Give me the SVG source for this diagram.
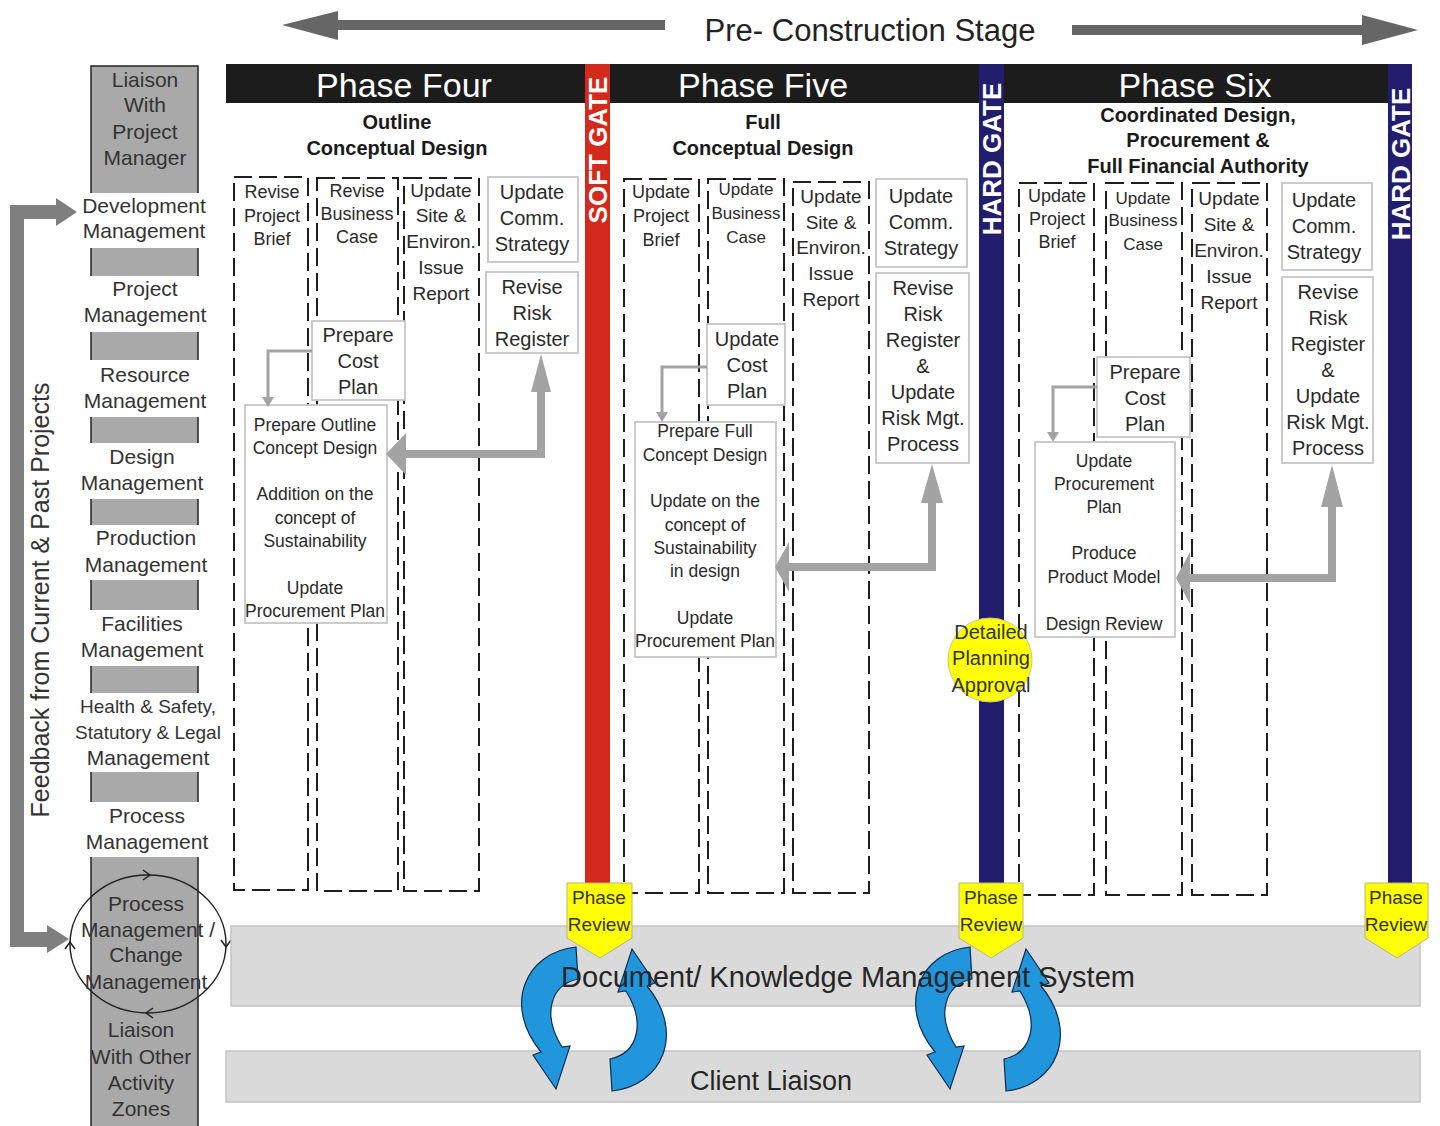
<svg xmlns="http://www.w3.org/2000/svg" width="1440" height="1126" viewBox="0 0 1440 1126">
<defs>
<style>
text{font-family:'Liberation Sans','DejaVu Sans',Arial,sans-serif;fill:#2a2a2a;text-anchor:middle}
.lc{font-size:21px;fill:#333}
.lcs{font-size:19px;fill:#333}
.dash{fill:none;stroke:#1e1e1e;stroke-width:2;stroke-dasharray:18 7}
.box{fill:#fff;stroke:#c6c6c6;stroke-width:1.8}
.c17{font-size:17px}
.c18{font-size:18px}
.c19{font-size:19px}
.c20{font-size:20px}
.bb{font-size:17.5px}
.hd{font-size:20px;font-weight:bold;fill:#1a1a1a}
.ph{font-size:34px;fill:#fff}
.gate{font-size:26px;font-weight:bold;fill:#fff}
.pr{fill:#ffff00;stroke:#b5b58a;stroke-width:1}
.prt{font-size:19px;fill:#333}
.thin{fill:none;stroke:#a3a3a3;stroke-width:3}
.conn{fill:#a3a3a3}
.blue{fill:#2196dd;stroke:#0d2c4d;stroke-width:1.2}
.seg{fill:#a9a9a9}
.side{stroke:#222;stroke-width:1.5;fill:none}
.chev{stroke:#222;stroke-width:1.5;fill:none}
</style>
<path id="arcL" d="M 970 947 C 920 952 896 1005 935 1052 L 927 1055 L 950 1089 L 964 1046 L 956 1047 C 936 1015 944 985 972 979 Z"/>
</defs>
<rect width="1440" height="1126" fill="#fff"/>

<!-- Stage arrow -->
<g id="stage">
<path d="M 665 20 L 338 20 L 338 11 L 282 25 L 338 40 L 338 30 L 665 30 Z" fill="#666"/>
<path d="M 1072 25 L 1362 25 L 1362 15 L 1418 30 L 1362 45 L 1362 35 L 1072 35 Z" fill="#666"/>
<text x="870" y="41" style="font-size:31px;fill:#222">Pre- Construction Stage</text>
</g>

<!-- Left management column -->
<g id="mgmt-column">
<rect class="seg" x="91" y="66" width="107" height="127"/>
<rect class="seg" x="91" y="248" width="107" height="28"/>
<rect class="seg" x="91" y="332" width="107" height="28"/>
<rect class="seg" x="91" y="417" width="107" height="26"/>
<rect class="seg" x="91" y="499" width="107" height="26"/>
<rect class="seg" x="91" y="580" width="107" height="30"/>
<rect class="seg" x="91" y="666" width="107" height="27"/>
<rect class="seg" x="91" y="772" width="107" height="30"/>
<rect class="seg" x="91" y="857" width="107" height="269"/>
<path class="side" d="M91 193 V66 H198 V193 M91 248 V276 M198 248 V276 M91 332 V360 M198 332 V360 M91 417 V443 M198 417 V443 M91 499 V525 M198 499 V525 M91 580 V610 M198 580 V610 M91 666 V693 M198 666 V693 M91 772 V802 M198 772 V802 M91 857 V1126 M198 857 V1126"/>
<text class="lc" x="145" y="87">Liaison</text>
<text class="lc" x="145" y="112">With</text>
<text class="lc" x="145" y="139">Project</text>
<text class="lc" x="145" y="165">Manager</text>
<text class="lc" x="144" y="213">Development</text>
<text class="lc" x="144" y="238">Management</text>
<text class="lc" x="145" y="296">Project</text>
<text class="lc" x="145" y="322">Management</text>
<text class="lc" x="145" y="382">Resource</text>
<text class="lc" x="145" y="408">Management</text>
<text class="lc" x="142" y="464">Design</text>
<text class="lc" x="142" y="490">Management</text>
<text class="lc" x="146" y="545">Production</text>
<text class="lc" x="146" y="572">Management</text>
<text class="lc" x="142" y="631">Facilities</text>
<text class="lc" x="142" y="657">Management</text>
<text class="lcs" x="148" y="713">Health &amp; Safety,</text>
<text class="lcs" x="148" y="739">Statutory &amp; Legal</text>
<text class="lc" x="148" y="765">Management</text>
<text class="lc" x="147" y="823">Process</text>
<text class="lc" x="147" y="849">Management</text>
</g>

<g id="change-cycle">
<ellipse cx="148" cy="944" rx="78" ry="69" fill="none" stroke="#222" stroke-width="1.5"/>
<path class="chev" d="M143 870 L150 875 L143 880 M221 940 L226 947 L231 940 M153 1008 L146 1013 L153 1018 M65 949 L70 942 L75 949"/>
<text class="lc" x="146" y="911">Process</text>
<text class="lc" x="148" y="937">Management /</text>
<text class="lc" x="146" y="962">Change</text>
<text class="lc" x="146" y="989">Management</text>
</g>

<g id="liaison-other">
<text class="lc" x="141" y="1037">Liaison</text>
<text class="lc" x="141" y="1064">With Other</text>
<text class="lc" x="141" y="1090">Activity</text>
<text class="lc" x="141" y="1116">Zones</text>
</g>

<g id="feedback">
<path d="M 10 205 L 56 205 L 56 198 L 77 212 L 56 226 L 56 219 L 24 219 L 24 932 L 47 932 L 47 925 L 69 939 L 47 953 L 47 947 L 10 947 Z" fill="#7f7f7f"/>
<text transform="translate(49,600) rotate(-90)" x="0" y="0" style="font-size:25px;fill:#333">Feedback from Current &amp; Past Projects</text>
</g>

<!-- Header bar -->
<g id="header">
<rect x="226" y="64" width="1186" height="39" fill="#1c1c1c"/>
<text class="ph" x="404" y="97">Phase Four</text>
<text class="ph" x="763" y="97">Phase Five</text>
<text class="ph" x="1195" y="97">Phase Six</text>
<text class="hd" x="397" y="129">Outline</text>
<text class="hd" x="397" y="155">Conceptual Design</text>
<text class="hd" x="763" y="129">Full</text>
<text class="hd" x="763" y="155">Conceptual Design</text>
<text class="hd" x="1198" y="122">Coordinated Design,</text>
<text class="hd" x="1198" y="147">Procurement &amp;</text>
<text class="hd" x="1198" y="173">Full Financial Authority</text>
</g>

<!-- Bottom bands -->
<g id="doc-band"><rect x="231" y="926" width="1189" height="80" fill="#dadada" stroke="#c4c4c4" stroke-width="1.5"/></g>
<g id="client-band"><rect x="226" y="1051" width="1194" height="51" fill="#dadada" stroke="#c4c4c4" stroke-width="1.5"/></g>

<!-- Phase Four -->
<g id="p4-brief"><rect class="dash" x="234" y="177" width="74" height="713"/>
<text class="c18" x="272" y="198">Revise</text><text class="c18" x="272" y="222">Project</text><text class="c18" x="272" y="245">Brief</text></g>
<g id="p4-business"><rect class="dash" x="317" y="178" width="81" height="713"/>
<text class="c18" x="357" y="197">Revise</text><text class="c18" x="357" y="220">Business</text><text class="c18" x="357" y="243">Case</text></g>
<g id="p4-site"><rect class="dash" x="404" y="178" width="75" height="713"/>
<text class="c19" x="441" y="197">Update</text><text class="c19" x="441" y="222">Site &amp;</text><text class="c19" x="441" y="248">Environ.</text><text class="c19" x="441" y="274">Issue</text><text class="c19" x="441" y="300">Report</text></g>
<g id="p4-comm"><rect class="box" x="488" y="177" width="90" height="85"/>
<text class="c20" x="532" y="199">Update</text><text class="c20" x="532" y="225">Comm.</text><text class="c20" x="532" y="251">Strategy</text></g>
<g id="p4-risk"><rect class="box" x="486" y="272" width="92" height="81"/>
<text class="c20" x="532" y="294">Revise</text><text class="c20" x="532" y="320">Risk</text><text class="c20" x="532" y="346">Register</text></g>
<g id="p4-cost"><rect class="box" x="312" y="321" width="93" height="79"/>
<text class="c20" x="358" y="342">Prepare</text><text class="c20" x="358" y="368">Cost</text><text class="c20" x="358" y="394">Plan</text></g>
<g id="p4-concept"><rect class="box" x="245" y="405" width="142" height="218"/>
<text class="bb" x="315" y="431">Prepare Outline</text><text class="bb" x="315" y="454">Concept Design</text>
<text class="bb" x="315" y="500">Addition on the</text><text class="bb" x="315" y="524">concept of</text><text class="bb" x="315" y="547">Sustainability</text>
<text class="bb" x="315" y="594">Update</text><text class="bb" x="315" y="617">Procurement Plan</text></g>

<!-- Phase Five -->
<g id="p5-brief"><rect class="dash" x="624" y="179" width="75" height="714"/>
<text class="c18" x="661" y="198">Update</text><text class="c18" x="661" y="222">Project</text><text class="c18" x="661" y="246">Brief</text></g>
<g id="p5-business"><rect class="dash" x="708" y="179" width="76" height="714"/>
<text class="c17" x="746" y="195">Update</text><text class="c17" x="746" y="219">Business</text><text class="c17" x="746" y="243">Case</text></g>
<g id="p5-site"><rect class="dash" x="793" y="182" width="76" height="711"/>
<text class="c19" x="831" y="203">Update</text><text class="c19" x="831" y="229">Site &amp;</text><text class="c19" x="831" y="254">Environ.</text><text class="c19" x="831" y="280">Issue</text><text class="c19" x="831" y="306">Report</text></g>
<g id="p5-comm"><rect class="box" x="876" y="179" width="91" height="88"/>
<text class="c20" x="921" y="203">Update</text><text class="c20" x="921" y="229">Comm.</text><text class="c20" x="921" y="255">Strategy</text></g>
<g id="p5-risk"><rect class="box" x="876" y="273" width="93" height="190"/>
<text class="c20" x="923" y="295">Revise</text><text class="c20" x="923" y="321">Risk</text><text class="c20" x="923" y="347">Register</text><text class="c20" x="923" y="373">&amp;</text><text class="c20" x="923" y="399">Update</text><text class="c20" x="923" y="425">Risk Mgt.</text><text class="c20" x="923" y="451">Process</text></g>
<g id="p5-cost"><rect class="box" x="707" y="324" width="78" height="81"/>
<text class="c20" x="747" y="346">Update</text><text class="c20" x="747" y="372">Cost</text><text class="c20" x="747" y="398">Plan</text></g>
<g id="p5-concept"><rect class="box" x="635" y="422" width="141" height="235"/>
<text class="bb" x="705" y="437">Prepare Full</text><text class="bb" x="705" y="461">Concept Design</text>
<text class="bb" x="705" y="507">Update on the</text><text class="bb" x="705" y="531">concept of</text><text class="bb" x="705" y="554">Sustainability</text><text class="bb" x="705" y="577">in design</text>
<text class="bb" x="705" y="624">Update</text><text class="bb" x="705" y="647">Procurement Plan</text></g>

<!-- Phase Six -->
<g id="p6-brief"><rect class="dash" x="1019" y="183" width="75" height="712"/>
<text class="c18" x="1057" y="202">Update</text><text class="c18" x="1057" y="225">Project</text><text class="c18" x="1057" y="248">Brief</text></g>
<g id="p6-business"><rect class="dash" x="1106" y="183" width="76" height="712"/>
<text class="c17" x="1143" y="204">Update</text><text class="c17" x="1143" y="226">Business</text><text class="c17" x="1143" y="250">Case</text></g>
<g id="p6-site"><rect class="dash" x="1192" y="183" width="75" height="712"/>
<text class="c19" x="1229" y="205">Update</text><text class="c19" x="1229" y="231">Site &amp;</text><text class="c19" x="1229" y="257">Environ.</text><text class="c19" x="1229" y="283">Issue</text><text class="c19" x="1229" y="309">Report</text></g>
<g id="p6-comm"><rect class="box" x="1282" y="183" width="90" height="87"/>
<text class="c20" x="1324" y="207">Update</text><text class="c20" x="1324" y="233">Comm.</text><text class="c20" x="1324" y="259">Strategy</text></g>
<g id="p6-risk"><rect class="box" x="1282" y="277" width="91" height="186"/>
<text class="c20" x="1328" y="299">Revise</text><text class="c20" x="1328" y="325">Risk</text><text class="c20" x="1328" y="351">Register</text><text class="c20" x="1328" y="377">&amp;</text><text class="c20" x="1328" y="403">Update</text><text class="c20" x="1328" y="429">Risk Mgt.</text><text class="c20" x="1328" y="455">Process</text></g>
<g id="p6-cost"><rect class="box" x="1097" y="357" width="93" height="80"/>
<text class="c20" x="1145" y="379">Prepare</text><text class="c20" x="1145" y="405">Cost</text><text class="c20" x="1145" y="431">Plan</text></g>
<g id="p6-procure"><rect class="box" x="1035" y="442" width="140" height="195"/>
<text class="bb" x="1104" y="467">Update</text><text class="bb" x="1104" y="490">Procurement</text><text class="bb" x="1104" y="513">Plan</text>
<text class="bb" x="1104" y="559">Produce</text><text class="bb" x="1104" y="583">Product Model</text>
<text class="bb" x="1104" y="630">Design Review</text></g>

<!-- Connectors -->
<g id="connectors">
<path class="thin" d="M 312 351 H 268 V 398"/>
<polygon class="conn" points="262,397 274,397 268,407"/>
<path class="conn" d="M 545 458 L 406 458 L 406 475 L 386 454 L 406 433 L 406 450 L 537 450 L 537 392 L 531 392 L 541 354 L 551 392 L 545 392 Z"/>
<path class="thin" d="M 707 367 H 662 V 413"/>
<polygon class="conn" points="656,412 668,412 662,422"/>
<path class="conn" d="M 936 571 L 789 571 L 789 592 L 775 567 L 789 542 L 789 563 L 928 563 L 928 503 L 921 503 L 932 464 L 943 503 L 936 503 Z"/>
<path class="thin" d="M 1097 387 H 1053 V 433"/>
<polygon class="conn" points="1047,432 1059,432 1053,442"/>
<path class="conn" d="M 1336 582 L 1190 582 L 1190 604 L 1176 578 L 1190 552 L 1190 574 L 1328 574 L 1328 507 L 1321 507 L 1332 465 L 1343 507 L 1336 507 Z"/>
</g>

<!-- Gates -->
<g id="soft-gate">
<rect x="585" y="64" width="25" height="820" fill="#d42a1e"/>
<text class="gate" transform="translate(607,150) rotate(-90)">SOFT GATE</text>
</g>
<g id="hard-gate-1">
<rect x="979" y="64" width="25" height="820" fill="#231d6e"/>
<text class="gate" transform="translate(1001,159) rotate(-90)">HARD GATE</text>
</g>
<g id="hard-gate-2">
<rect x="1388" y="64" width="24" height="820" fill="#231d6e"/>
<text class="gate" transform="translate(1409.5,164) rotate(-90)">HARD GATE</text>
</g>

<g id="planning-approval">
<circle cx="990" cy="660" r="42" fill="#ffff00" stroke="#c8c88a" stroke-width="1"/>
<text class="c20" x="991" y="639" style="fill:#333">Detailed</text>
<text class="c20" x="991" y="665" style="fill:#333">Planning</text>
<text class="c20" x="991" y="692" style="fill:#333">Approval</text>
</g>

<!-- Blue cycle arrows -->
<g id="cycle-1" transform="translate(-394,0)">
<use href="#arcL" class="blue"/>
<use href="#arcL" class="blue" transform="rotate(180 988 1019)"/>
</g>
<g id="cycle-2">
<use href="#arcL" class="blue"/>
<use href="#arcL" class="blue" transform="rotate(180 988 1019)"/>
</g>

<g id="band-labels">
<text x="848" y="987" style="font-size:29px;fill:#262626">Document/ Knowledge Management System</text>
<text x="771" y="1090" style="font-size:27px;fill:#262626">Client Liaison</text>
</g>

<!-- Phase reviews -->
<g id="review-1">
<polygon class="pr" points="567,883 632,883 632,938 600,958 567,938"/>
<text class="prt" x="599" y="904">Phase</text><text class="prt" x="599" y="931">Review</text>
</g>
<g id="review-2">
<polygon class="pr" points="959,883 1023,883 1023,938 991,958 959,938"/>
<text class="prt" x="991" y="904">Phase</text><text class="prt" x="991" y="931">Review</text>
</g>
<g id="review-3">
<polygon class="pr" points="1365,883 1428,883 1428,938 1397,958 1365,938"/>
<text class="prt" x="1396" y="904">Phase</text><text class="prt" x="1396" y="931">Review</text>
</g>
</svg>
